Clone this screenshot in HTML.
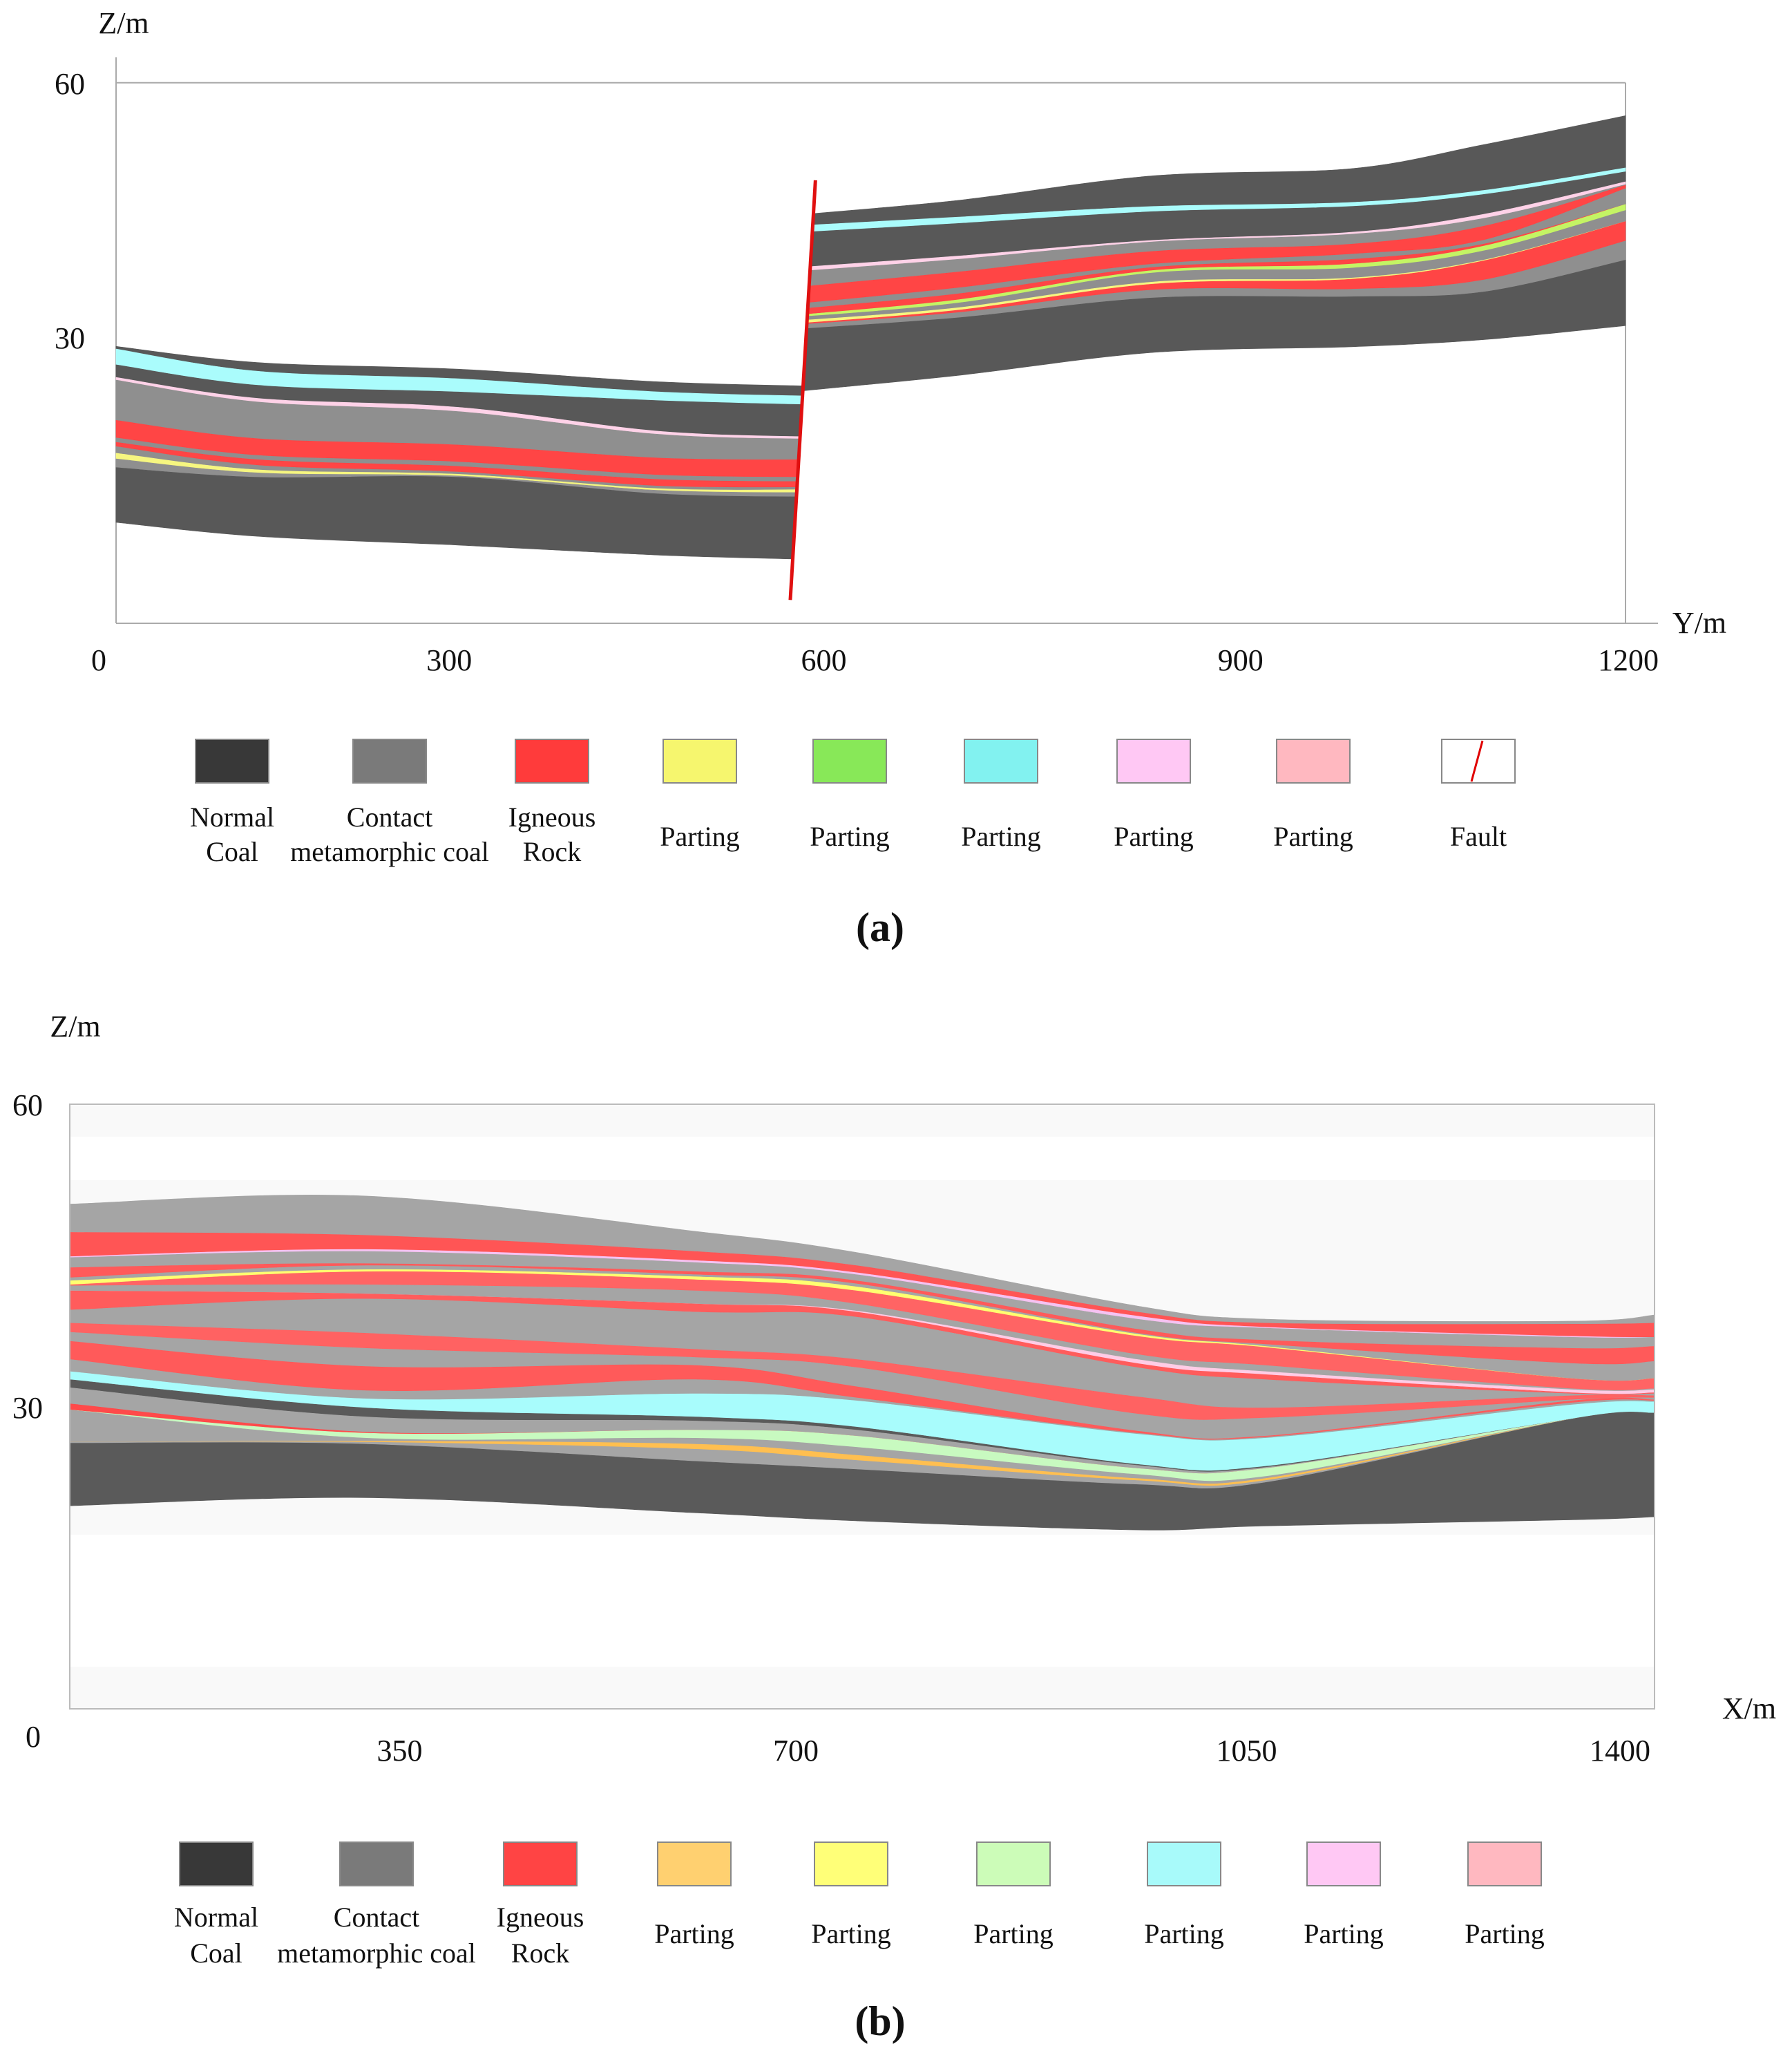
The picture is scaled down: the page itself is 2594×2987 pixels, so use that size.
<!DOCTYPE html>
<html><head><meta charset="utf-8">
<style>
html,body{margin:0;padding:0;background:#fff;}
svg{display:block;font-family:"Liberation Serif",serif;}
</style></head>
<body>
<svg id="fig" width="2594" height="2987" viewBox="0 0 2594 2987" xmlns="http://www.w3.org/2000/svg">
  <g id="panelA"></g>
  <g id="panelB"></g>
</svg>
<script>
// ---------- Panel (a) data ----------
const aLeftY = [0, 113, 272, 432, 560];
const aLeftColors = ['dark','cyan','dark','pink','gray','red','gray','red','gray','yellow','gray','dark'];
const aLeftB = [
  [28.91,27.00,26.23,24.73,24.21],
  [28.60,25.97,25.09,23.54,23.03],
  [26.74,24.32,23.54,22.51,21.99],
  [25.25,22.77,21.73,18.89,18.22],
  [24.94,22.35,21.22,18.53,17.97],
  [20.19,18.02,17.29,15.74,15.54],
  [18.12,16.05,15.28,13.73,13.47],
  [17.60,15.54,14.76,13.21,12.96],
  [17.09,14.87,14.09,12.44,12.29],
  [16.31,14.35,13.83,12.13,12.03],
  [15.64,13.99,13.63,11.92,11.66],
  [14.61,13.47,13.47,11.51,11.15],
  [8.15,6.50,5.47,4.28,3.76]
];
const aRightY = [535, 669, 825, 982, 1087, 1200];
const aRightColors = ['dark','cyan','dark','pink','gray','red','gray','red','green','gray','yellow','red','gray','dark'];
const aRightB = [
  [44.34,46.13,49.04,49.88,52.70,56.12],
  [43.08,44.16,45.42,45.89,47.30,49.97],
  [42.28,43.41,44.81,45.42,46.83,49.50],
  [38.15,39.56,41.43,42.37,44.48,48.33],
  [37.68,39.18,41.25,42.14,44.01,48.00],
  [35.80,37.68,40.12,40.97,43.08,47.91],
  [33.83,35.80,38.62,39.79,41.43,47.53],
  [33.22,35.10,38.24,39.18,40.97,45.66],
  [32.52,34.40,37.87,38.62,40.73,45.66],
  [32.28,34.02,37.59,38.15,40.17,44.95],
  [31.86,33.46,36.51,36.98,39.09,43.64],
  [31.53,33.18,36.27,36.84,39.00,43.64],
  [31.39,32.89,35.57,35.66,36.74,41.34],
  [30.88,32.28,34.63,34.77,35.33,39.09],
  [23.51,25.48,28.20,28.86,29.70,31.35]
];
const faultY = [556, 536];
const faultZ = [48.5, -1];
const aXTicks = [0, 300, 600, 900, 1200];
const aZTicks = [60, 30];

// ---------- Panel (b) data ----------
const bX = [0, 262, 553, 695, 943, 1056, 1327, 1400];
const bColors = ['gray','redA','pink','gray','redB','gray','yellow','redC','gray','pink2','redD','gray','redE','gray','redF','gray','cyan','dark','gray','red2','green','gray','orange','gray','dark'];
const bColA = [50.1,47.3,44.9,44.8,43.8,42.8,42.5,42.1,42.0,41.5,41.5,39.6,38.3,37.4,36.5,34.7,33.5,32.7,31.9,30.3,29.7,29.7,26.5,26.5,26.4,20.2];
const bColB = [50.9,47.0,45.6,45.4,44.2,44.0,43.6,43.4,42.1,41.2,41.2,40.7,37.3,35.8,34.0,31.6,30.8,29.9,29.0,27.5,27.4,26.9,26.6,26.5,26.3,21.0];
const bColC = [47.4,45.4,44.5,44.3,43.4,43.1,42.9,42.6,41.5,40.2,40.2,39.4,35.7,34.9,34.1,32.7,31.3,29.0,28.6,27.7,27.7,26.9,26.3,25.8,24.6,19.5];
const bColD = [45.3,44.0,43.3,43.1,42.5,42.2,41.9,41.5,40.2,39.5,39.4,38.9,34.7,33.9,32.0,30.9,30.6,28.0,27.7,27.1,27.1,26.0,25.2,24.7,23.8,18.7];
const bColE = [40.0,39.4,39.0,38.7,37.7,37.3,37.2,37.0,35.2,34.7,34.3,33.9,31.0,29.3,27.6,27.4,27.3,24.3,24.2,23.9,23.9,23.3,22.9,22.7,22.3,17.8];
const bColF = [38.7,38.3,37.9,37.8,36.6,36.2,36.0,35.9,34.1,33.5,33.2,32.7,29.9,28.9,27.1,27.0,26.9,24.1,24.0,23.9,23.9,23.1,22.9,22.7,22.5,18.2];
const bColG = [38.5,38.2,37.0,36.9,35.8,34.3,32.8,32.8,31.8,31.7,31.4,31.3,31.1,30.7,30.6,30.4,30.2,28.8,28.8,28.8,28.8,28.8,28.8,28.8,28.8,18.8];
const bColH = [39.1,38.3,36.9,36.9,36.0,34.5,32.8,32.8,31.8,31.7,31.4,31.3,31.1,30.9,30.7,30.6,30.5,29.4,29.4,29.4,29.4,29.4,29.4,29.4,29.4,19.1];
const bXTicks = [0, 350, 700, 1050, 1400];
const bZTicks = [60, 30];

const legendA = [['#383838','Normal','Coal'],['#7a7a7a','Contact','metamorphic coal'],['#ff3b3b','Igneous','Rock'],['#f6f66e','Parting',''],['#88e858','Parting',''],['#82f2f0','Parting',''],['#ffc8f4','Parting',''],['#ffb8c0','Parting',''],['fault','Fault','']];
const legendB = [['#383838','Normal','Coal'],['#7a7a7a','Contact','metamorphic coal'],['#ff4444','Igneous','Rock'],['#ffd070','Parting',''],['#ffff78','Parting',''],['#ccfcb8','Parting',''],['#a8fafa','Parting',''],['#ffc8f4','Parting',''],['#ffb8c0','Parting','']];

// ---------- helpers ----------
const NS = 'http://www.w3.org/2000/svg';
const palA = {dark:'#585858',gray:'#8f8f8f',red:'#ff4545',cyan:'#aafcfc',pink:'#ffd2e8',yellow:'#f6f680',green:'#c4f464'};
const palB = {gray:'#a5a5a5',redA:'#ff5555',redB:'#ff5a5a',redC:'#ff6464',redD:'#ff5c5c',redE:'#ff6262',redF:'#ff5a5a',red2:'#ff4a4a',pink:'#f6c2f2',pink2:'#ffcce6',yellow:'#ffff70',cyan:'#a8fcfc',dark:'#5a5a5a',green:'#c8fac0',orange:'#ffbf50'};

function mk(tag, parent, attrs){
  const e = document.createElementNS(NS, tag);
  for (const k in attrs) e.setAttribute(k, attrs[k]);
  parent.appendChild(e);
  return e;
}
function spline(pts){
  let d = 'L' + pts[0][0].toFixed(1) + ',' + pts[0][1].toFixed(1);
  for (let i = 0; i < pts.length - 1; i++){
    const p0 = pts[Math.max(0,i-1)], p1 = pts[i], p2 = pts[i+1], p3 = pts[Math.min(pts.length-1,i+2)];
    const c1x = p1[0] + (p2[0]-p0[0])/6, c1y = p1[1] + (p2[1]-p0[1])/6;
    const c2x = p2[0] - (p3[0]-p1[0])/6, c2y = p2[1] - (p3[1]-p1[1])/6;
    d += 'C' + c1x.toFixed(1)+','+c1y.toFixed(1)+' '+c2x.toFixed(1)+','+c2y.toFixed(1)+' '+p2[0].toFixed(1)+','+p2[1].toFixed(1);
  }
  return d;
}
function drawBands(g, xs, bounds, colors, pal, sx, sy, clip){
  for (let i = 0; i < colors.length; i++){
    const top = xs.map((x,j)=>[sx(x), sy(bounds[i][j])]);
    const bot = xs.map((x,j)=>[sx(x), sy(bounds[i+1][j])]).reverse();
    const d = 'M' + spline(top).slice(1) + spline(bot) + 'Z';
    const p = mk('path', g, {d:d, fill:pal[colors[i]], stroke:pal[colors[i]], 'stroke-width':'0.6'});
    if (clip) p.setAttribute('clip-path', 'url(#' + clip + ')');
    
    
  }
}
function text(g, x, y, s, size, anchor, name, weight){
  const t = mk('text', g, {x:x, y:y, 'font-size':size, 'text-anchor':anchor||'middle', fill:'#111'});
  if (weight) t.setAttribute('font-weight', weight);
  t.textContent = s;
  
  
  return t;
}
function legend(g, items, xs, sy, ty1, ty2, typ, prefix){
  items.forEach((it, i) => {
    const cx = xs[i];
    const sw = mk('g', g, {});
    
    
    if (it[0] === 'fault'){
      mk('rect', sw, {x:cx-53, y:sy, width:106, height:63, fill:'#fff', stroke:'#888', 'stroke-width':2});
      mk('line', sw, {x1:cx+6, y1:sy+2, x2:cx-10, y2:sy+61, stroke:'#e00000', 'stroke-width':3});
    } else {
      mk('rect', sw, {x:cx-53, y:sy, width:106, height:63, fill:it[0], stroke:'#888', 'stroke-width':2});
    }
    if (it[2]){
      text(sw, cx, ty1, it[1], 40, 'middle', prefix + '-legend-label');
      text(sw, cx, ty2, it[2], 40, 'middle', prefix + '-legend-label');
    } else {
      text(sw, cx, typ, it[1], 40, 'middle', prefix + '-legend-label');
    }
  });
}

// ---------- Panel (a) ----------
(function(){
  const g = document.getElementById('panelA');
  const sx = y => 168 + y * (2353-168)/1200;
  const sy = z => 856 - z * 12.27;
  const defs = mk('defs', g, {});
  const fx = (z) => faultY[0] + (faultY[1]-faultY[0]) * (z - faultZ[0]) / (faultZ[1]-faultZ[0]);
  const ztop = 70, zbot = -10;
  const cl = mk('clipPath', defs, {id:'clipL'});
  mk('polygon', cl, {points:[[0,sy(ztop)],[sx(fx(ztop)),sy(ztop)],[sx(fx(zbot)),sy(zbot)],[0,sy(zbot)]].map(p=>p.join(',')).join(' ')});
  const cr = mk('clipPath', defs, {id:'clipR'});
  mk('polygon', cr, {points:[[sx(fx(ztop)),sy(ztop)],[2594,sy(ztop)],[2594,sy(zbot)],[sx(fx(zbot)),sy(zbot)]].map(p=>p.join(',')).join(' ')});

  const ax = mk('g', g, {});
  
  
  mk('line', ax, {x1:168, y1:83, x2:168, y2:902, stroke:'#aaa', 'stroke-width':2});
  mk('line', ax, {x1:168, y1:sy(60), x2:sx(1200), y2:sy(60), stroke:'#aaa', 'stroke-width':2});
  mk('line', ax, {x1:sx(1200), y1:sy(60), x2:sx(1200), y2:902, stroke:'#aaa', 'stroke-width':2});
  mk('line', ax, {x1:168, y1:902, x2:2400, y2:902, stroke:'#aaa', 'stroke-width':2});

  const layers = mk('g', g, {});
  
  
  drawBands(layers, aLeftY, aLeftB, aLeftColors, palA, sx, sy, 'clipL');
  drawBands(layers, aRightY, aRightB, aRightColors, palA, sx, sy, 'clipR');

  const f = mk('line', g, {x1:sx(faultY[0]), y1:sy(faultZ[0]), x2:sx(faultY[1]), y2:sy(faultZ[1]), stroke:'#e01010', 'stroke-width':5});
  
  

  text(g, 179, 48, 'Z/m', 44, 'middle', 'panel-a-z-axis-title');
  aZTicks.forEach(z => text(g, 101, sy(z)+16, String(z), 44, 'middle', 'panel-a-z-tick'));
  const aNudge = {0:-25, 300:-64, 600:-68, 900:-11, 1200:4};
  aXTicks.forEach(v => text(g, sx(v) + aNudge[v], 970, String(v), 44, 'middle', 'panel-a-y-tick'));
  text(g, 2460, 916, 'Y/m', 44, 'middle', 'panel-a-y-axis-title');

  legend(g, legendA, [336,564,799,1013,1230,1449,1670,1901,2140], 1070, 1196, 1246, 1224, 'panel-a');
  text(g, 1274, 1362, '(a)', 60, 'middle', 'panel-a-caption', 'bold');
})();

// ---------- Panel (b) ----------
(function(){
  const g = document.getElementById('panelB');
  const sx = x => 101 + x * (2395-101)/1400;
  const sy = z => 2474 - z * 14.6;
  const bg = mk('g', g, {});
  
  
  mk('rect', bg, {x:101, y:1598, width:2294, height:875, fill:'#ffffff'});
  mk('rect', bg, {x:101, y:1598, width:2294, height:47, fill:'#f9f9f9'});
  mk('rect', bg, {x:101, y:1708, width:2294, height:513, fill:'#f9f9f9'});
  mk('rect', bg, {x:101, y:2412, width:2294, height:61, fill:'#f9f9f9'});

  const cols = [bColA, bColB, bColC, bColD, bColE, bColF, bColG, bColH];
  const bounds = bColA.map((_, i) => cols.map(c => c[i]));
  const layers = mk('g', g, {});
  
  
  drawBands(layers, bX, bounds, bColors, palB, sx, sy, null);

  const fr = mk('rect', g, {x:101, y:1598, width:2294, height:875, fill:'none', stroke:'#bbb', 'stroke-width':2});
  
  

  text(g, 109, 1500, 'Z/m', 44, 'middle', 'panel-b-z-axis-title');
  bZTicks.forEach(z => text(g, 40, sy(z)+16, String(z), 44, 'middle', 'panel-b-z-tick'));
  text(g, 48, 2528, '0', 44, 'middle', 'panel-b-z-tick');
  const bNudge = {350:-96, 700:-96, 1050:-17, 1400:-50};
  bXTicks.slice(1).forEach(v => text(g, sx(v) + bNudge[v], 2548, String(v), 44, 'middle', 'panel-b-x-tick'));
  text(g, 2532, 2487, 'X/m', 44, 'middle', 'panel-b-x-axis-title');

  legend(g, legendB, [313,545,782,1005,1232,1467,1714,1945,2178], 2666, 2788, 2840, 2812, 'panel-b');
  text(g, 1274, 2945, '(b)', 60, 'middle', 'panel-b-caption', 'bold');
})();
</script>
</body></html>
